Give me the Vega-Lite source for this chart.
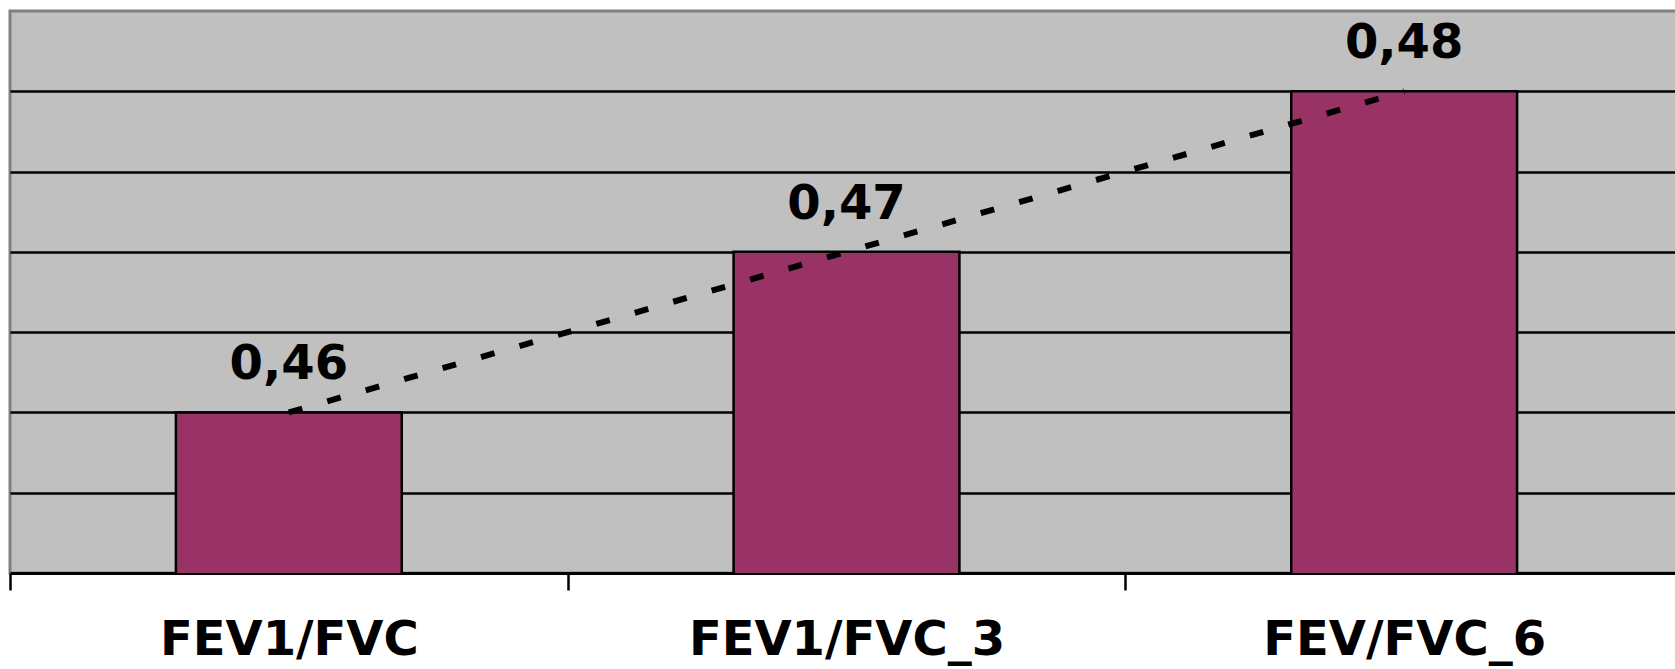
{
  "$schema": "https://vega.github.io/schema/vega-lite/v6.json",
  "autosize": "none",
  "width": 1673,
  "height": 562,
  "padding": {"left": 10, "top": 11, "right": 0, "bottom": 96},
  "background": "#ffffff",
  "config": {
    "locale": {"number": {"decimal": ",", "thousands": ".", "grouping": [3], "currency": ["", " €"]}},
    "view": {"fill": "#c0c0c0", "stroke": "#808080", "strokeWidth": 3},
    "font": "DejaVu Sans"
  },
  "data": {
    "values": [
      {"ratio": "FEV1/FVC", "value": 0.46},
      {"ratio": "FEV1/FVC_3", "value": 0.47},
      {"ratio": "FEV/FVC_6", "value": 0.48}
    ]
  },
  "encoding": {
    "x": {
      "field": "ratio",
      "type": "nominal",
      "sort": null,
      "scale": {"paddingInner": 0, "paddingOuter": 0},
      "axis": {
        "title": null,
        "labelAngle": 0,
        "labelFont": "DejaVu Sans",
        "labelFontWeight": "bold",
        "labelFontSize": 48,
        "labelColor": "#000000",
        "labelPadding": 26,
        "labelLimit": 0,
        "tickBand": "extent",
        "tickSize": 17,
        "tickWidth": 2.5,
        "tickColor": "#000000",
        "domainColor": "#000000",
        "domainWidth": 3,
        "grid": false
      }
    },
    "y": {
      "field": "value",
      "type": "quantitative",
      "scale": {"domain": [0.45, 0.485], "zero": false, "nice": false},
      "axis": {
        "title": null,
        "labels": false,
        "ticks": false,
        "domain": false,
        "grid": true,
        "gridColor": "#000000",
        "gridWidth": 2.5,
        "gridOpacity": 1,
        "values": [0.455, 0.46, 0.465, 0.47, 0.475, 0.48]
      }
    }
  },
  "layer": [
    {
      "mark": {"type": "bar", "clip": true, "width": {"band": 0.405}, "fill": "#993366", "stroke": "#000000", "strokeWidth": 2.5}
    },
    {
      "mark": {"type": "line", "color": "#000000", "strokeWidth": 6, "strokeDash": [14, 26], "strokeCap": "butt"}
    },
    {
      "mark": {"type": "text", "font": "DejaVu Sans", "fontWeight": "bold", "fontSize": 48, "baseline": "alphabetic", "dy": -33, "color": "#000000"},
      "encoding": {"text": {"field": "value", "type": "quantitative", "format": ".2f"}}
    }
  ]
}
